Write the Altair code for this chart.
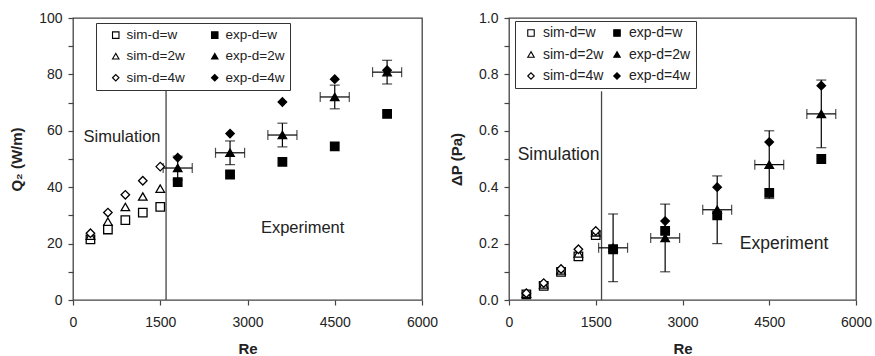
import altair as alt
import pandas as pd

FONT = "Liberation Sans"

# ---------------- data ----------------
re_sim = [300, 600, 900, 1200, 1500]
re_exp = [1800, 2700, 3600, 4500, 5400]
series_order = ["sim-d=w", "exp-d=w", "sim-d=2w", "exp-d=2w", "sim-d=4w", "exp-d=4w"]
series_shapes = ["square", "square", "triangle-up", "triangle-up", "diamond", "diamond"]
series_fills = ["white", "black", "white", "black", "white", "black"]
series_strokes = ["black"] * 6

# left panel: Q2 (W/m)
q_sim_w = [21.5, 25.0, 28.3, 31.0, 33.0]
q_sim_2w = [22.8, 27.8, 33.0, 36.7, 39.5]
q_sim_4w = [23.7, 31.0, 37.3, 42.3, 47.3]
q_exp_w = [41.8, 44.5, 49.0, 54.5, 66.0]
q_exp_2w = [46.8, 52.2, 58.5, 72.0, 80.8]
q_exp_4w = [50.5, 59.0, 70.2, 78.3, 81.5]
q_err_y = [4.2, 4.2, 4.2, 4.2, 4.2]
q_err_x = [250, 250, 250, 250, 250]

# right panel: dP (Pa)
p_sim_w = [0.020, 0.050, 0.100, 0.155, 0.230]
p_sim_2w = [0.022, 0.055, 0.105, 0.165, 0.240]
p_sim_4w = [0.024, 0.060, 0.110, 0.180, 0.245]
p_exp_w = [0.180, 0.245, 0.300, 0.380, 0.500]
p_exp_2w = [0.185, 0.220, 0.320, 0.480, 0.660]
p_exp_4w = [0.180, 0.280, 0.400, 0.560, 0.760]
p_err_y = [0.12, 0.12, 0.12, 0.12, 0.12]
p_err_x = [250, 250, 250, 250, 250]

# divider between simulation and experiment regions
divider_re = 1600
q_divider_top = 75
p_divider_top = 0.74

# annotations: (Re, value, text)
q_labels = [(180, 57.8, "Simulation"), (3230, 25.7, "Experiment")]
p_labels = [(150, 0.513, "Simulation"), (3990, 0.199, "Experiment")]

x_ticks = [0, 1500, 3000, 4500, 6000]
q_ticks = [0, 10, 20, 30, 40, 50, 60, 70, 80, 90, 100]
p_ticks = [0.0, 0.1, 0.2, 0.3, 0.4, 0.5, 0.6, 0.7, 0.8, 0.9, 1.0]


def points_df(sw, s2, s4, ew, e2, e4):
    rows = []
    for name, re_list, vals in [
        ("sim-d=w", re_sim, sw), ("sim-d=2w", re_sim, s2), ("sim-d=4w", re_sim, s4),
        ("exp-d=w", re_exp, ew), ("exp-d=2w", re_exp, e2), ("exp-d=4w", re_exp, e4),
    ]:
        for r, v in zip(re_list, vals):
            rows.append({"Re": r, "val": v, "series": name})
    return pd.DataFrame(rows)


def err_df(center, ey, ex):
    return pd.DataFrame({
        "Re": re_exp, "val": center,
        "ylo": [c - e for c, e in zip(center, ey)],
        "yhi": [c + e for c, e in zip(center, ey)],
        "xlo": [r - e for r, e in zip(re_exp, ex)],
        "xhi": [r + e for r, e in zip(re_exp, ex)],
    })


def panel(pts, err, ymax, ytitle, yvals, label_expr, div_top, labels, text_size,
          lx, ly, legend_kw, width, height):
    xscale = alt.Scale(domain=[0, 6000], nice=False, zero=True)
    yscale = alt.Scale(domain=[0, ymax], nice=False, zero=True)
    xaxis = alt.Axis(title="Re", values=x_ticks, format="d", tickSize=5,
                     labelPadding=10, titlePadding=12, labelFlush=False)
    yaxis = alt.Axis(title=ytitle, values=yvals, labelExpr=label_expr,
                     tickSize=5, labelPadding=6, titlePadding=14, labelFlush=False)

    def X(f):
        return alt.X(f, type="quantitative", scale=xscale, axis=xaxis)

    def Y(f):
        return alt.Y(f, type="quantitative", scale=yscale, axis=yaxis)

    div = alt.Chart(pd.DataFrame({"Re": [divider_re], "y0": [0], "y1": [div_top]})).mark_rule(
        color="#444", strokeWidth=1.3).encode(x=X("Re"), y=Y("y0"), y2="y1")

    e = alt.Chart(err)
    v_rule = e.mark_rule(color="black", strokeWidth=1.2).encode(x=X("Re"), y=Y("ylo"), y2="yhi")
    h_rule = e.mark_rule(color="black", strokeWidth=1.2).encode(x=X("xlo"), x2="xhi", y=Y("val"))
    cap_top = e.mark_tick(color="black", orient="horizontal", size=10, thickness=1.2).encode(x=X("Re"), y=Y("yhi"))
    cap_bot = e.mark_tick(color="black", orient="horizontal", size=10, thickness=1.2).encode(x=X("Re"), y=Y("ylo"))
    cap_l = e.mark_tick(color="black", orient="vertical", size=10, thickness=1.2).encode(x=X("xlo"), y=Y("val"))
    cap_r = e.mark_tick(color="black", orient="vertical", size=10, thickness=1.2).encode(x=X("xhi"), y=Y("val"))

    leg = alt.Legend(title=None, orient="none", legendX=lx, legendY=ly, columns=2,
                     direction="horizontal",
                     fillColor="white", strokeColor="#333", labelFont=FONT,
                     labelColor="#222", symbolStrokeWidth=1.1,
                     **legend_kw)
    sh_scale = alt.Scale(domain=series_order, range=series_shapes)
    fi_scale = alt.Scale(domain=series_order, range=series_fills)
    st_scale = alt.Scale(domain=series_order, range=series_strokes)
    pts_layer = alt.Chart(pts).mark_point(size=72, strokeWidth=1.3,
                                           opacity=1, filled=True).encode(
        x=X("Re"), y=Y("val"),
        shape=alt.Shape("series:N", scale=sh_scale, legend=leg),
        fill=alt.Fill("series:N", scale=fi_scale, legend=leg),
        stroke=alt.Stroke("series:N", scale=st_scale, legend=leg),
    )

    txt = alt.Chart(pd.DataFrame(labels, columns=["Re", "val", "t"])).mark_text(
        align="left", baseline="middle", fontSize=text_size, font=FONT, color="#222").encode(
        x=X("Re"), y=Y("val"), text="t:N")

    return alt.layer(div, v_rule, h_rule, cap_top, cap_bot, cap_l, cap_r, pts_layer, txt).properties(
        width=width, height=height)


left = panel(points_df(q_sim_w, q_sim_2w, q_sim_4w, q_exp_w, q_exp_2w, q_exp_4w),
             err_df(q_exp_2w, q_err_y, q_err_x), 100, "Q₂ (W/m)", q_ticks,
             "datum.value % 20 == 0 ? datum.label : ''", q_divider_top, q_labels, 16.5,
             23, 5, dict(labelFontSize=13.5, padding=5, rowPadding=6.5, columnPadding=15,
                         symbolSize=42, symbolOffset=8, labelOffset=4), 349, 282)

right = panel(points_df(p_sim_w, p_sim_2w, p_sim_4w, p_exp_w, p_exp_2w, p_exp_4w),
              err_df(p_exp_2w, p_err_y, p_err_x), 1.0, "ΔP (Pa)", p_ticks,
              "round(datum.value * 10) % 2 == 0 ? format(datum.value, '.1f') : ''",
              p_divider_top, p_labels, 17.5,
              6, 3, dict(labelFontSize=14, padding=5, rowPadding=7.5, columnPadding=2,
                         symbolSize=42, symbolOffset=4, labelOffset=5), 347, 282)

chart = alt.hconcat(left, right, spacing=87, bounds="flush").resolve_scale(
    shape="independent", fill="independent", stroke="independent").resolve_legend(
    shape="independent", fill="independent", stroke="independent").properties(
    padding={"left": 8, "top": 10, "right": 0, "bottom": 0},
    background="white"
).configure_view(stroke="#444", strokeWidth=1.3).configure_axis(
    domain=False, grid=False, tickColor="#444", tickWidth=1.2,
    labelFont=FONT, labelFontSize=14, labelColor="#222",
    titleFont=FONT, titleFontSize=15, titleFontWeight="bold", titleColor="#222"
)

chart.save("out.html", embed_options={"renderer": "svg", "actions": False})
